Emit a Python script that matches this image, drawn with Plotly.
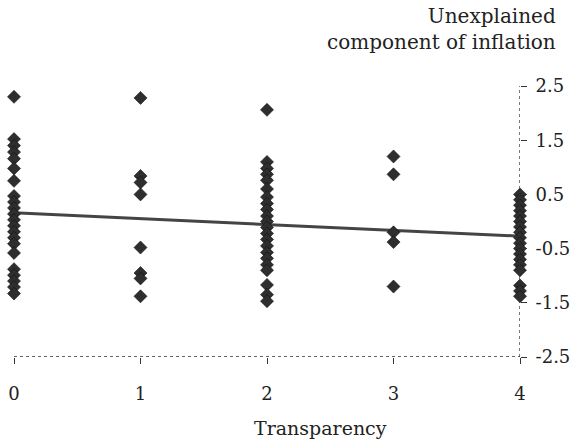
import plotly.graph_objects as go

# Data
transparency_levels = [0, 1, 2, 3, 4]
col0 = [2.3, 1.52, 1.4, 1.28, 1.16, 0.98, 0.75, 0.47, 0.36, 0.25, 0.14, 0.03,
        -0.08, -0.19, -0.3, -0.41, -0.58, -0.88, -0.99, -1.1, -1.21, -1.33]
col1 = [2.28, 0.84, 0.72, 0.5, -0.48, -0.95, -1.05, -1.38]
col2 = [2.06, 1.1, 0.98, 0.87, 0.76, 0.6, 0.45, 0.33, 0.22, 0.1, 0.0, -0.11,
        -0.22, -0.33, -0.45, -0.57, -0.68, -0.8, -0.9, -1.17, -1.35, -1.47]
col3 = [1.2, 0.87, -0.2, -0.38, -1.2]
col4 = [0.5, 0.4, 0.3, 0.2, 0.1, 0.0, -0.1, -0.2, -0.3, -0.4, -0.5, -0.6, -0.7,
        -0.8, -0.9, -1.18, -1.28, -1.38]
fit_x = [0, 4]
fit_y = [0.16, -0.27]
y_ticks = [-2.5, -1.5, -0.5, 0.5, 1.5, 2.5]
x_ticks = [0, 1, 2, 3, 4]

columns = [col0, col1, col2, col3, col4]
xs, ys = [], []
for lvl, vals in zip(transparency_levels, columns):
    xs += [lvl] * len(vals)
    ys += vals

FONT = "DejaVu Serif"

fig = go.Figure()
fig.add_trace(go.Scatter(
    x=fit_x, y=fit_y, mode="lines", cliponaxis=False,
    line=dict(color="#444444", width=3), showlegend=False, hoverinfo="skip"))
fig.add_trace(go.Scatter(
    x=xs, y=ys, mode="markers", cliponaxis=False,
    marker=dict(symbol="diamond", size=10, color="#2e2e2e",
                line=dict(color="#111111", width=0.6)),
    showlegend=False))

# dotted axis lines
fig.add_shape(type="line", xref="x", yref="y", x0=0, x1=4, y0=-2.5, y1=-2.5,
              line=dict(color="#333333", width=1.3, dash="dot"))
fig.add_shape(type="line", xref="x", yref="y", x0=4, x1=4, y0=-2.5, y1=2.5,
              line=dict(color="#333333", width=1.3, dash="dot"))

fig.update_layout(
    width=579, height=441,
    margin=dict(l=14, r=59, t=86, b=84, autoexpand=False),
    plot_bgcolor="white", paper_bgcolor="white",
    font=dict(family=FONT, size=18, color="#222222"),
    xaxis=dict(range=[0, 4], tickvals=x_ticks, ticktext=[str(v) for v in x_ticks],
               ticks="outside", ticklen=6, tickcolor="#333333", tickwidth=1,
               showgrid=False, zeroline=False, showline=False, automargin=False,
               ticklabelstandoff=14, fixedrange=True),
    yaxis=dict(range=[-2.5, 2.5], side="right", tickvals=y_ticks,
               ticktext=[f"{v:.1f}" for v in y_ticks],
               ticks="outside", ticklen=6, tickcolor="#333333", tickwidth=1,
               showgrid=False, zeroline=False, showline=False, automargin=False,
               ticklabelstandoff=5, fixedrange=True),
    annotations=[
        dict(text="Unexplained<br>component of inflation", xref="paper", yref="paper",
             x=1.075, y=1.212, xanchor="right", yanchor="middle", showarrow=False,
             align="right", font=dict(family=FONT, size=20, color="#222222")),
        dict(text="Transparency", xref="paper", yref="paper",
             x=0.605, y=-0.262, xanchor="center", yanchor="middle", showarrow=False,
             font=dict(family=FONT, size=19, color="#222222")),
    ],
)

fig.write_html("out.html", config={"displayModeBar": False},
               post_script="document.body.style.margin='0';document.body.style.overflow='hidden';")
